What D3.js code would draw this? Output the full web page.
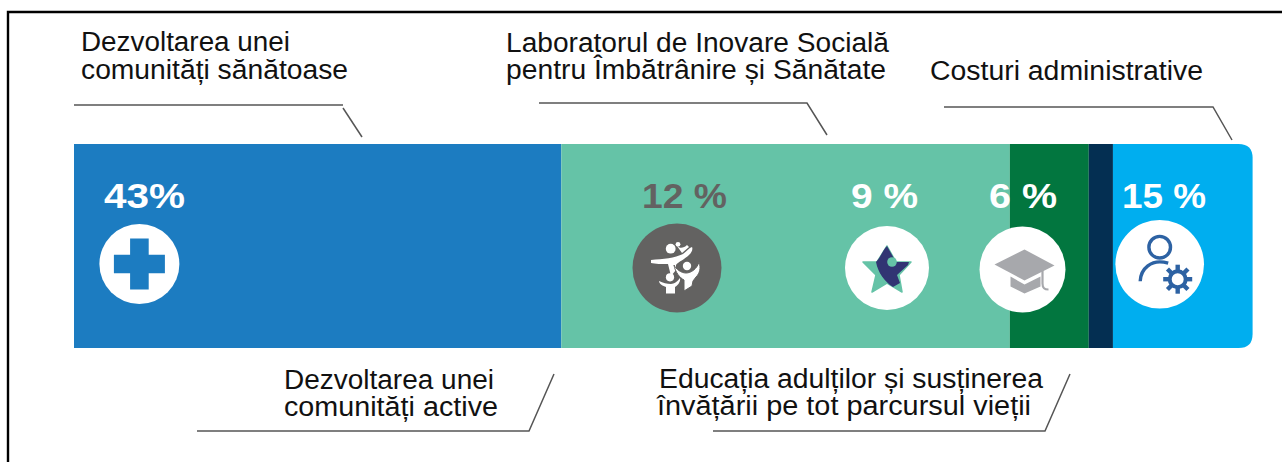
<!DOCTYPE html>
<html><head><meta charset="utf-8">
<script src="https://cdn.jsdelivr.net/npm/d3@7"></script>
<style>html,body{margin:0;padding:0;background:#fff;overflow:hidden}svg{display:block}text{font-family:"Liberation Sans",Arial,sans-serif}</style>
</head><body><svg id="c" width="1282" height="462"></svg>
<script>
// Data
const segmentNames = ["Dezvoltarea unei comunități sănătoase","Dezvoltarea unei comunități active și alte programe","Educația adulților și susținerea învățării pe tot parcursul vieții","Laboratorul de Inovare Socială pentru Îmbătrânire și Sănătate","Costuri administrative"];
const segmentShares = [41.35, 38.05, 6.7, 2.05, 11.85];
const segmentColors = ["#1c7cc1","#65c3a7","#02763f","#042f52","#00aeef"];
const percentLabels = ["43%","12 %","9 %","6 %","15 %"];
const percentColors = ["#fff","#636261","#fff","#fff","#fff"];
const percentX = [104,642,851,989,1122];
const percentW = [81,85,67,68,84];
const iconCx = [139.4,677,887,1022.5,1159.7];
const iconCy = [264,268,268,269.5,264.2];
const iconR = [40,44.5,42,43,44.3];
const iconFill = ["#fff","#636261","#fff","#fff","#fff"];
const noteLines = [
 ["Dezvoltarea unei",81,51,209],["comunități sănătoase",81,78.5,267],
 ["Laboratorul de Inovare Socială",506,52,383],["pentru Îmbătrânire și Sănătate",506,79,380],
 ["Costuri administrative",930,80,273],
 ["Dezvoltarea unei",284,389,210],["comunități active",284,416,214],
 ["Educația adulților și susținerea",659,388,384],["învățării pe tot parcursul vieții",657,415,374]];
const leaders = [
 [[74,105],[343,105]],[[343,108],[362,137]],
 [[539,103],[807,103],[827,135]],
 [[944,107],[1213,107],[1232,140]],
 [[197,431],[529,431],[554,374]],
 [[713,431],[1045,431],[1070,374]]];

const svg = d3.select("#c");
const x = d3.scaleLinear().domain([0,d3.sum(segmentShares)]).range([74,1252.6]);
const barTop = 144, barBottom = 348, corner = 14;
const cum = d3.cumsum(segmentShares);
const starts = [0,...cum.slice(0,-1)];

// frame
svg.append("path").attr("d","M8,462V12H1282").attr("fill","none").attr("stroke","#000").attr("stroke-width",2.4);

// bar
segmentShares.forEach((v,i)=>{
  const x0=x(starts[i]), x1=x(cum[i]);
  if(i<segmentShares.length-1){
    svg.append("rect").attr("x",x0).attr("y",barTop).attr("width",x1-x0).attr("height",barBottom-barTop).attr("fill",segmentColors[i]);
  } else {
    svg.append("path").attr("fill",segmentColors[i])
      .attr("d",`M${x0},${barTop}H${x1-corner}Q${x1},${barTop} ${x1},${barTop+corner}V${barBottom-corner}Q${x1},${barBottom} ${x1-corner},${barBottom}H${x0}Z`);
  }
});

// leader lines
const line=d3.line();
svg.selectAll(".l").data(leaders).join("path").attr("d",line).attr("fill","none").attr("stroke","#555").attr("stroke-width",1.5);

// notes
svg.selectAll(".n").data(noteLines).join("text").attr("x",d=>d[1]).attr("y",d=>d[2]).text(d=>d[0])
  .attr("font-size",27).attr("fill","#111").attr("textLength",d=>d[3]).attr("lengthAdjust","spacingAndGlyphs");

// percentages
svg.selectAll(".p").data(percentLabels).join("text").attr("x",(d,i)=>percentX[i]).attr("y",208).text(d=>d)
  .attr("font-size",35).attr("font-weight","700").attr("fill",(d,i)=>percentColors[i])
  .attr("textLength",(d,i)=>percentW[i]).attr("lengthAdjust","spacingAndGlyphs");

// icon discs
const icon = iconCx.map((cx,i)=>{
  const g=svg.append("g").attr("transform",`translate(${cx},${iconCy[i]})`);
  g.append("circle").attr("r",iconR[i]).attr("fill",iconFill[i]);
  return g;
});
// cross
icon[0].append("path").attr("fill","#1c7cc1").attr("d","M-9.3,-25.5H9.3V-9.3H25.5V9.3H9.3V25.5H-9.3V9.3H-25.5V-9.3H-9.3Z");
// people
const w="#fff", dk="#636261";
icon[1].append("circle").attr("cx",-6.3).attr("cy",-19.3).attr("r",4.9).attr("fill",w);
icon[1].append("circle").attr("cx",1).attr("cy",-23.7).attr("r",2.4).attr("fill",w);
icon[1].append("path").attr("fill",w).attr("d","M0,-22C3,-19 7,-20 10,-23L12,-21L5,-15Z");
icon[1].append("path").attr("fill",w).attr("d","M-26,-8C-14,-9 -2,-10 6,-14C10,-17 12,-20 15,-21C16,-19 15,-16 12,-13C8,-9 1,-6 -1,-3L-1,2L-6,8L-9,-4C-15,-4 -22,-4 -26,-5Z");
icon[1].append("circle").attr("cx",10).attr("cy",-2).attr("r",4.2).attr("fill",w);
icon[1].append("path").attr("fill",w).attr("stroke",dk).attr("stroke-width",1).attr("d","M-3,-3C-1,1 4,5 9,5C14,5 20,1 22,-6C24,0 23,5 19,9L16,13L15,18L7,23V12C3,10 -2,4 -3,-3Z");
icon[1].append("circle").attr("cx",-7).attr("cy",9.3).attr("r",4.1).attr("fill",w);
icon[1].append("path").attr("fill",w).attr("d","M-18,13C-14,15 -10,16 -6,16C-3,16 1,13 3,10C4,14 0,18 -2,19V25.5H-11V19C-14,18 -18,16 -18,13Z");
// star
icon[2].append("path").attr("fill","#65c3a7").attr("stroke","#65c3a7").attr("stroke-width",1.5).attr("stroke-linejoin","round")
  .attr("d","M0,-22L9,-6L24,-6L12,7L15,24L0,15L-15,24L-11,7L-24,-6L-10,-6Z");
icon[2].append("path").attr("fill","#313473").attr("d","M0,-22L9,-6L22,-6L21,-3L10,7L13,15L6,19C-2,14 -9,5 -11,-6C-7,-10 -4,-18 0,-22Z");
icon[2].append("circle").attr("cx",5).attr("cy",-6).attr("r",4.8).attr("fill","#65c3a7");
// cap
const g3="#a7a8ac";
icon[3].append("path").attr("fill",g3).attr("d","M2,-20L32,-4L2,11L-28,-5Z");
icon[3].append("path").attr("fill",g3).attr("d","M-12,7L2,15L18,7V17L2,24L-12,17Z");
icon[3].append("path").attr("fill","none").attr("stroke",g3).attr("stroke-width",2.2).attr("d","M20,1V14C20,19 22,20 26,20");
// user + gear
const b="#2d62a3";
icon[4].append("circle").attr("cx",0).attr("cy",-17).attr("r",10.8).attr("fill","none").attr("stroke",b).attr("stroke-width",3.4);
icon[4].append("path").attr("fill","none").attr("stroke",b).attr("stroke-width",3.4).attr("d","M-19.5,17C-19,5 -9,-6 8.5,-1");
icon[4].append("circle").attr("cx",18).attr("cy",15).attr("r",8).attr("fill","none").attr("stroke",b).attr("stroke-width",4);
d3.range(8).forEach(k=>{
  icon[4].append("rect").attr("x",15.8).attr("y",0.5).attr("width",4.4).attr("height",6)
    .attr("fill",b).attr("transform",`rotate(${k*45} 18 15)`);
});
</script></body></html>
